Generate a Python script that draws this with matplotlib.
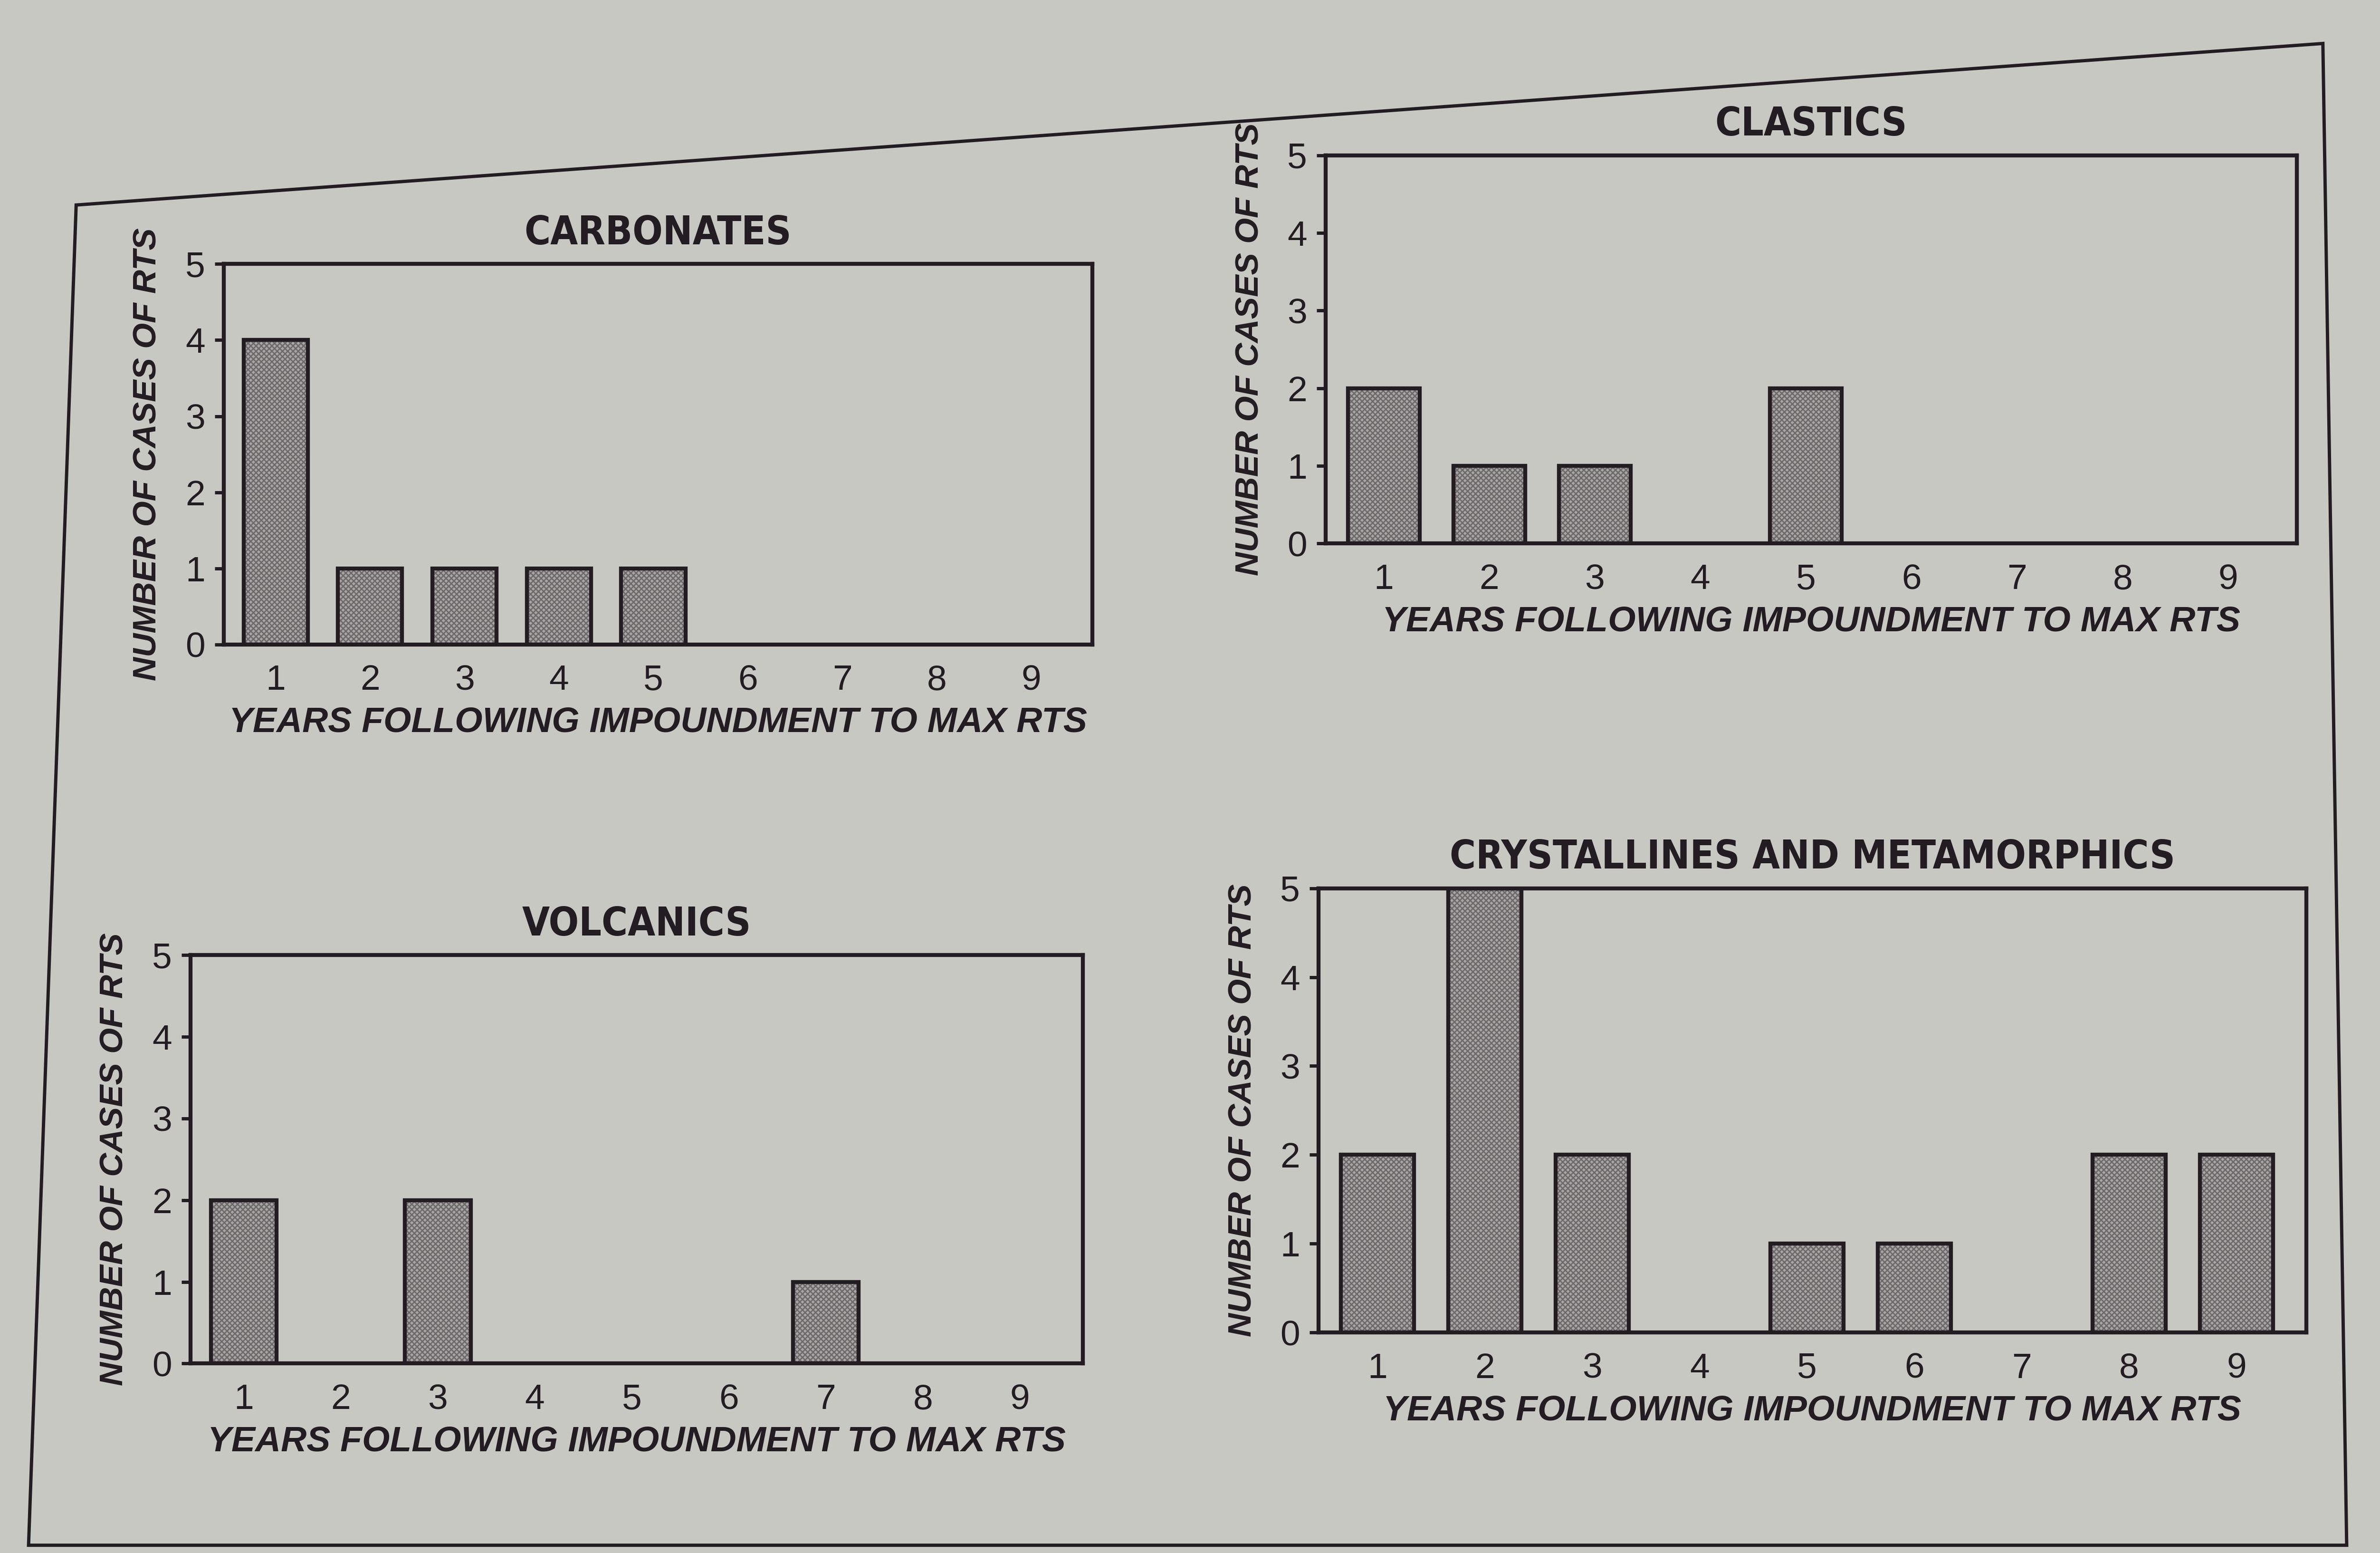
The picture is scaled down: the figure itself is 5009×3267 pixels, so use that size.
import matplotlib
matplotlib.use("Agg")
from matplotlib import pyplot as plt
import numpy as np

# data
years = [1, 2, 3, 4, 5, 6, 7, 8, 9]
carbonates = [4, 1, 1, 1, 1, 0, 0, 0, 0]
clastics = [2, 1, 1, 0, 2, 0, 0, 0, 0]
volcanics = [2, 0, 2, 0, 0, 0, 1, 0, 0]
crystallines = [2, 5, 2, 0, 1, 1, 0, 2, 2]
titles = ["CARBONATES", "CLASTICS", "VOLCANICS", "CRYSTALLINES AND METAMORPHICS"]
yticks = [0, 1, 2, 3, 4, 5]

bg = "#c8c8c3"
ink = "#231c22"

plt.rcParams["font.family"] = ["Liberation Sans", "DejaVu Sans"]
plt.rcParams["hatch.linewidth"] = 2.0

fig = plt.figure(figsize=(50.09, 32.67), dpi=100, facecolor=bg)

# outer frame of the printed figure
fig.add_artist(plt.Polygon([[0.032, 0.868], [0.976, 0.972], [0.986, 0.005], [0.012, 0.005]],
                           closed=True, fill=False, edgecolor=ink, lw=5, transform=fig.transFigure))

boxes = [
    [0.094, 0.585, 0.365, 0.245],
    [0.557, 0.650, 0.408, 0.250],
    [0.080, 0.122, 0.375, 0.263],
    [0.554, 0.142, 0.415, 0.286],
]
series = [carbonates, clastics, volcanics, crystallines]

for box, vals, title in zip(boxes, series, titles):
    ax = fig.add_axes(box)
    ax.set_facecolor(bg)
    x = np.array(years)
    v = np.array(vals)
    keep = v > 0
    ax.bar(x[keep], v[keep], width=0.68, color="#a9a7a6", hatch="xxx", edgecolor="#6e6a6c", lw=0)
    ax.bar(x[keep], v[keep], width=0.68, fill=False, edgecolor=ink, lw=6)
    ax.set_xlim(0.45, 9.65)
    ax.set_ylim(0, 5)
    ax.set_xticks(years)
    ax.set_yticks(yticks)
    for s in ax.spines.values():
        s.set_linewidth(6)
        s.set_color(ink)
    ax.tick_params(axis="x", length=0, pad=30, labelsize=54, colors=ink)
    ax.tick_params(axis="y", length=14, width=5, pad=14, labelsize=54, colors=ink)
    ax.set_title(title, fontsize=60, family="DejaVu Sans", fontstretch="condensed",
                 fontweight="bold", color=ink, pad=30)
    ax.set_ylabel("NUMBER OF CASES OF RTS", fontsize=50, fontweight="bold",
                  fontstyle="italic", color=ink, labelpad=34)
    ax.set_xlabel("YEARS FOLLOWING IMPOUNDMENT TO MAX RTS", fontsize=54, fontweight="bold",
                  fontstyle="italic", color=ink, labelpad=14)

fig.savefig("out.png", dpi=100, facecolor=bg)
